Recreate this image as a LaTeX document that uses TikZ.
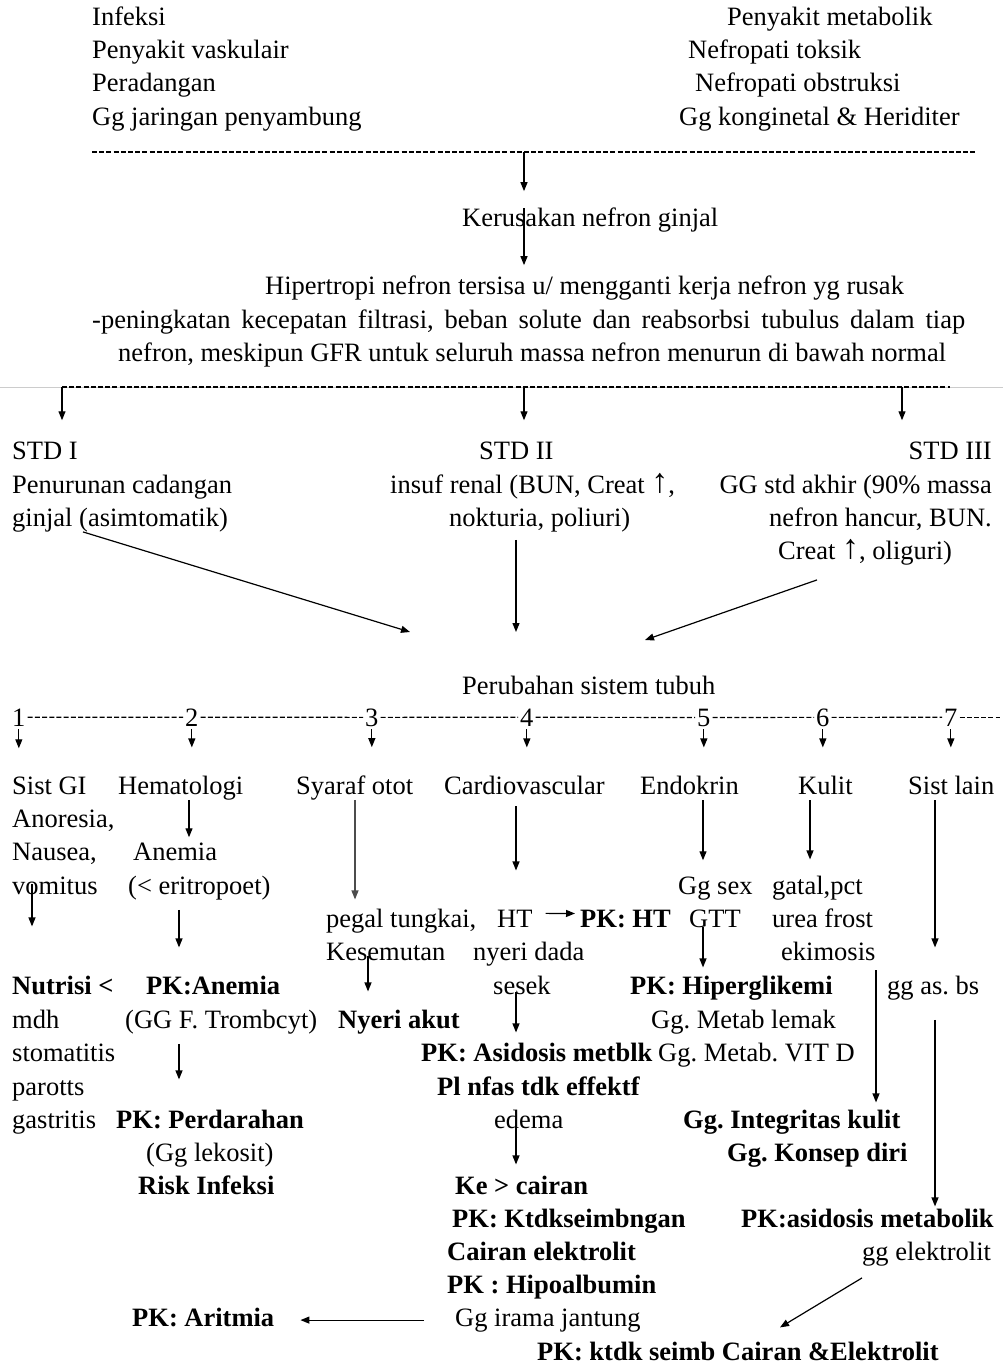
\documentclass[tikz,border=0pt]{standalone}
\usepackage{fontspec}
\setmainfont{Liberation Serif}
\usetikzlibrary{arrows.meta}

\tikzset{
  txt/.style={anchor=base west,inner sep=0pt,font=\fontsize{26.5pt}{33pt}\selectfont},
  txtb/.style={txt,font=\fontsize{26.5pt}{33pt}\selectfont\bfseries},
  txtr/.style={txt,anchor=base east},
  arr/.style={-{Triangle[length=9pt,width=7pt]},line width=1.2pt,draw=black},
  dashline/.style={line width=1.2pt,dash pattern=on 5pt off 2.2pt},
}
\newcommand{\upar}{{\fontsize{34pt}{34pt}\selectfont\raisebox{1pt}{↑}}}
\frenchspacing

\begin{document}
\begin{tikzpicture}[x=1pt,y=-1pt]
\useasboundingbox[fill=white] (0,0) rectangle (1003,1364);

\node[txt](infeksi) at (92,26) {Infeksi};
\node[txt](vaskulair) at (92,59) {Penyakit vaskulair};
\node[txt](peradangan) at (92,92) {Peradangan};
\node[txt](penyambung) at (92,126) {Gg jaringan penyambung};

\node[txt](metabolik) at (727,26) {Penyakit metabolik};
\node[txt](toksik) at (688,59) {Nefropati toksik};
\node[txt](obstruksi) at (695,92) {Nefropati obstruksi};
\node[txt](konginetal) at (679,126) {Gg konginetal \& Heriditer};

\coordinate (dash1 left) at (92,152);
\coordinate (dash1 right) at (975,152);
\coordinate (mid) at (524,0);

\node[txt](kerusakan) at (462,227) {Kerusakan nefron ginjal};

\node[txt](hipertropi) at (265,294) {Hipertropi nefron tersisa u/ mengganti kerja nefron yg rusak};
\node[txt](peningkatan) at (92,328) {\makebox[873pt][s]{-peningkatan kecepatan filtrasi, beban solute dan reabsorbsi tubulus dalam tiap}};
\node[txt](meskipun) at (118,361) {nefron, meskipun GFR untuk seluruh massa nefron menurun di bawah normal};

\coordinate (grey left) at (0,387);
\coordinate (grey right) at (1003,387);
\coordinate (dash2 left) at (62,387);
\coordinate (dash2 right) at (950,387);
\coordinate (std3 col) at (902,0);

\node[txt](std1) at (12,459) {STD I};
\node[txt](std2) at (479,459) {STD II};
\node[txtr](std3) at (992,459) {STD III};

\node[txt](penurunan) at (12,493) {Penurunan cadangan};
\node[txt](asimtomatik) at (12,526) {ginjal (asimtomatik)};

\node[txt](insuf) at (390,493) {insuf renal (BUN, Creat \upar,};
\node[txt](nokturia) at (449,526) {nokturia, poliuri)};

\node[txtr](akhir) at (992,493) {GG std akhir (90\% massa};
\node[txtr](hancur) at (992,526) {nefron hancur, BUN.};
\node[txt](oliguri) at (778,559) {Creat \upar, oliguri)};

\coordinate (conv left) at (410,632);
\coordinate (conv mid) at (516,632);
\coordinate (conv right) at (645,640);

\node[txt](perubahan) at (462,694) {Perubahan sistem tubuh};

\node[txt](n1) at (12,726) {1};
\node[txt](n2) at (185,726) {2};
\node[txt](n3) at (365,726) {3};
\node[txt](n4) at (520,726) {4};
\node[txt](n5) at (697,726) {5};
\node[txt](n6) at (816,726) {6};
\node[txt](n7) at (944,726) {7};
\coordinate (row end) at (1000,717);

\node[txt](sist gi) at (12,794) {Sist GI};
\node[txt](hematologi) at (118,794) {Hematologi};
\node[txt](syaraf) at (296,794) {Syaraf otot};
\node[txt](cardio) at (444,794) {Cardiovascular};
\node[txt](endokrin) at (640,794) {Endokrin};
\node[txt](kulit) at (798,794) {Kulit};
\node[txt](sist lain) at (908,794) {Sist lain};

\coordinate (c1) at (32,0);
\node[txt](anoresia) at (12,827) {Anoresia,};
\node[txt](nausea) at (12,860) {Nausea,};
\node[txt](vomitus) at (12,894) {vomitus};
\node[txtb](nutrisi) at (12,994) {Nutrisi <};
\node[txt](mdh) at (12,1028) {mdh};
\node[txt](stomatitis) at (12,1061) {stomatitis};
\node[txt](parotts) at (12,1095) {parotts};
\node[txt](gastritis) at (12,1128) {gastritis};

\coordinate (c2a) at (189,0);
\coordinate (c2) at (179,0);
\node[txt](anemia) at (133,860) {Anemia};
\node[txt](eritropoet) at (128,894) {(< eritropoet)};
\node[txtb](pk anemia) at (146,994) {PK:Anemia};
\node[txt](trombcyt) at (125,1028) {(GG F. Trombcyt)};
\node[txtb](perdarahan) at (116,1128) {PK: Perdarahan};
\node[txt](lekosit) at (146,1161) {(Gg lekosit)};
\node[txtb](risk) at (138,1194) {Risk Infeksi};

\coordinate (c3a) at (355,0);
\coordinate (c3) at (368,0);
\node[txt](pegal) at (326,927) {pegal tungkai,};
\node[txt](kesemutan) at (326,960) {Kesemutan};
\node[txtb](nyeri akut) at (338,1028) {Nyeri akut};

\coordinate (c4) at (516,0);
\node[txt](ht) at (497,927) {HT};
\node[txtb](pk ht) at (580,927) {PK: HT};
\node[txt](nyeri dada) at (473,960) {nyeri dada};
\node[txt](sesek) at (493,994) {sesek};
\node[txtb](asidosis) at (421,1061) {PK: Asidosis metblk};
\node[txtb](pl nfas) at (437,1095) {Pl nfas tdk effektf};
\node[txt](edema) at (494,1128) {edema};
\node[txtb](ke cairan) at (455,1194) {Ke > cairan};
\node[txtb](ktdk) at (452,1227) {PK: Ktdkseimbngan};
\node[txtb](cairan) at (447,1260) {Cairan elektrolit};
\node[txtb](hipoalbumin) at (447,1293) {PK : Hipoalbumin};
\node[txt](irama) at (455,1326) {Gg irama jantung};
\node[txtb](aritmia) at (132,1326) {PK: Aritmia};

\coordinate (c5) at (703,0);
\node[txt](gg sex) at (678,894) {Gg sex};
\node[txt](gtt) at (689,927) {GTT};
\node[txtb](hiperglikemi) at (630,994) {PK: Hiperglikemi};
\node[txt](lemak) at (651,1028) {Gg. Metab lemak};
\node[txt](vit d) at (658,1061) {Gg. Metab. VIT D};

\coordinate (c6a) at (810,0);
\coordinate (c6) at (876,0);
\node[txt](gatal) at (772,894) {gatal,pct};
\node[txt](urea) at (772,927) {urea frost};
\node[txt](ekimosis) at (781,960) {ekimosis};
\node[txtb](integritas) at (683,1128) {Gg. Integritas kulit};
\node[txtb](konsep) at (727,1161) {Gg. Konsep diri};

\coordinate (c7) at (935,0);
\node[txt](gg as) at (887,994) {gg as. bs};
\node[txtb](pk asidosis) at (741,1227) {PK:asidosis metabolik};
\node[txt](gg elektrolit) at (862,1260) {gg elektrolit};
\node[txtb](seimb) at (537,1360) {PK: ktdk seimb Cairan \&Elektrolit};

\draw[dashline] (dash1 left) to (dash1 right);
\draw[arr,shorten >=17pt] (dash1 left -| mid) to (kerusakan.north -| mid);
\draw[arr,shorten >=10pt] (kerusakan.north -| mid) to (hipertropi.north -| mid);

\draw[black!20,line width=1pt] (grey left) to (grey right);
\draw[dashline] (dash2 left) to (dash2 right);
\draw[arr,shorten >=21pt] (dash2 left) to (std1.north -| dash2 left);
\draw[arr,shorten >=21pt] (dash2 left -| mid) to (std2.north -| mid);
\draw[arr,shorten >=21pt] (dash2 left -| std3 col) to (std3.north -| std3 col);

\draw[arr] ([xshift=71pt]asimtomatik.south west) to (conv left);
\draw[arr,shorten <=8pt] (nokturia.south -| conv mid) to (conv mid);
\draw[arr] ([xshift=39pt,yshift=-15pt]oliguri.south west) to (conv right);

\draw[dashline,shorten <=2pt,shorten >=2pt] (n1.east) to (n2.west);
\draw[dashline,shorten <=2pt,shorten >=2pt] (n2.east) to (n3.west);
\draw[dashline,shorten <=2pt,shorten >=2pt] (n3.east) to (n4.west);
\draw[dashline,shorten <=2pt,shorten >=2pt] (n4.east) to (n5.west);
\draw[dashline,shorten <=2pt,shorten >=2pt] (n5.east) to (n6.west);
\draw[dashline,shorten <=2pt,shorten >=2pt] (n6.east) to (n7.west);
\draw[dashline,shorten <=2pt] (n7.east) to (n7.east -| row end);

\draw[arr,shorten <=3pt,shorten >=28pt] (n1.south) to (sist gi.north -| n1.south);
\draw[arr,shorten <=3pt,shorten >=28pt] (n2.south) to (hematologi.north -| n2.south);
\draw[arr,shorten <=3pt,shorten >=28pt] (n3.south) to (syaraf.north -| n3.south);
\draw[arr,shorten <=3pt,shorten >=28pt] (n4.south) to (cardio.north -| n4.south);
\draw[arr,shorten <=3pt,shorten >=28pt] (n5.south) to (endokrin.north -| n5.south);
\draw[arr,shorten <=3pt,shorten >=28pt] (n6.south) to (kulit.north -| n6.south);
\draw[arr,shorten <=3pt,shorten >=28pt] (n7.south) to (sist lain.north -| n7.south);

\draw[arr,shorten <=-10pt,shorten >=49pt] (vomitus.south -| c1) to (nutrisi.north -| c1);

\draw[arr,shorten >=5pt] (hematologi.south -| c2a) to (anemia.north -| c2a);
\draw[arr,shorten <=10pt,shorten >=28pt] (eritropoet.south -| c2) to (pk anemia.north -| c2);
\draw[arr,shorten <=10pt,shorten >=30pt] (trombcyt.south -| c2) to (perdarahan.north -| c2);

\draw[arr,draw=black!70,shorten >=9pt] (syaraf.south -| c3a) to (pegal.north -| c3a);
\draw[arr,shorten <=-4pt,shorten >=18pt] (kesemutan.south -| c3) to (nyeri akut.north -| c3);

\draw[arr,shorten <=12pt,shorten >=39pt] (cardio.south -| c4) to (ht.north -| c4);
\draw[arr,shorten <=13pt,shorten >=5pt] ([yshift=5pt]ht.east) to ([yshift=5pt]pk ht.west);
\draw[arr,shorten <=-2pt,shorten >=10pt] (sesek.south -| c4) to (asidosis.north -| c4);
\draw[arr,shorten <=-3pt,shorten >=11pt] (edema.south -| c4) to (ke cairan.north -| c4);
\draw[arr,shorten <=31pt,shorten >=26pt] (irama.west) to (aritmia.east |- irama.west);

\draw[arr,shorten <=6pt,shorten >=16pt] (endokrin.south -| c5) to (gg sex.north -| c5);
\draw[arr,shorten >=8pt] (gtt.south -| c5) to (hiperglikemi.north -| c5);

\draw[arr,shorten <=6pt,shorten >=16pt] (kulit.south -| c6a) to (gatal.north -| c6a);
\draw[arr,shorten <=10pt,shorten >=7pt] (ekimosis.south -| c6) to (integritas.north -| c6);

\draw[arr,shorten <=6pt,shorten >=28pt] (sist lain.south -| c7) to (gg as.north -| c7);
\draw[arr,shorten <=20pt,shorten >=2pt] (gg as.south -| c7) to (pk asidosis.north -| c7);
\draw[arr] ([yshift=-12pt]gg elektrolit.south west) to ([xshift=243pt,yshift=14pt]seimb.north west);

\end{tikzpicture}
\end{document}
